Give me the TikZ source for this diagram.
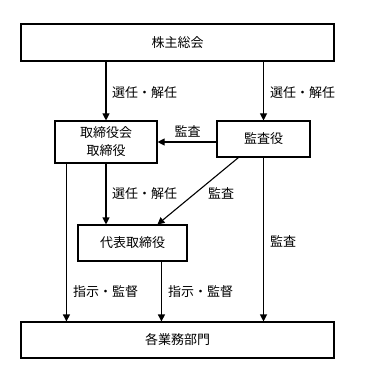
\documentclass[tikz,border=0pt]{standalone}
\usepackage{fontspec}
\setmainfont{Noto Sans CJK JP}
\usetikzlibrary{arrows.meta}
\begin{document}
\begin{tikzpicture}[x=1pt,y=-1pt,
  box/.style={draw,line width=1.1pt,inner sep=0pt,align=center,font=\fontsize{13}{18}\selectfont},
  arr/.style={line width=1.1pt,-{Triangle[length=7pt,width=7pt]}},
  lbl/.style={inner sep=0pt,font=\fontsize{13}{15}\selectfont}]
\useasboundingbox (0,0) rectangle (364,379);
\node[box,minimum width=313pt,minimum height=37pt] (top) at (177.5,42.5) {株主総会};
\node[box,minimum width=102pt,minimum height=42pt] (board) at (106,142) {取締役会\\取締役};
\node[box,minimum width=93pt,minimum height=36pt] (audit) at (263.5,139) {監査役};
\node[box,minimum width=109pt,minimum height=36pt] (rep) at (132.5,243) {代表取締役};
\node[box,minimum width=313pt,minimum height=36pt] (bottom) at (177.5,340) {各業務部門};
\coordinate (bl) at ([xshift=12pt]board.south west);
\coordinate (rb) at ([xshift=84pt]rep.south west);
\coordinate (ad) at ([xshift=22pt]audit.south west);
\coordinate (rt) at ([xshift=80pt]rep.north west);
\draw[arr] (top.south -| board.north) -- (board.north);
\draw[arr] (top.south -| audit.north) -- (audit.north);
\draw[arr] (audit.west |- 0,142) -- (board.east |- 0,142);
\draw[arr] (ad) -- (rt);
\draw[arr] (bl) -- (bl |- bottom.north);
\draw[arr] (board.south) -- (board.south |- rep.north);
\draw[arr] (rb) -- (rb |- bottom.north);
\draw[arr] (audit.south) -- (audit.south |- bottom.north);
\node[lbl,anchor=west] (l1) at (112,93) {選任・解任};
\node[lbl,anchor=west] (l2) at (270,93) {選任・解任};
\node[lbl] (l3) at (187.5,131) {監査};
\node[lbl] (l4) at (221,193) {監査};
\node[lbl,anchor=west] (l5) at (112,194) {選任・解任};
\node[lbl,anchor=west] (l6) at (73,292) {指示・監督};
\node[lbl,anchor=west] (l7) at (168,292) {指示・監督};
\node[lbl,anchor=west] (l8) at (270,241) {監査};
\end{tikzpicture}
\end{document}
